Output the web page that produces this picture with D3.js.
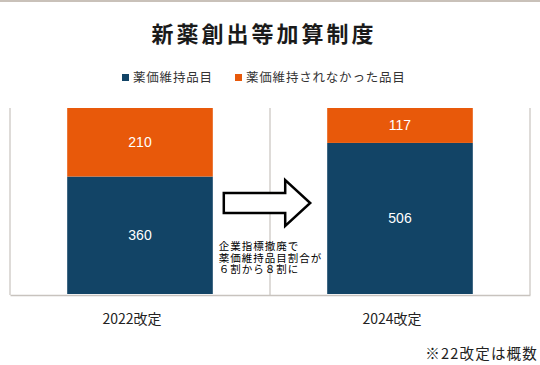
<!DOCTYPE html>
<html>
<head>
<meta charset="utf-8">
<script src="https://cdn.jsdelivr.net/npm/d3@7"></script>
<style>
  body { margin: 0; background: #fff; }
  svg { display: block; font-family: "Noto Sans CJK JP", "Noto Sans", sans-serif; }
</style>
</head>
<body>
<svg id="chart" width="540" height="365"></svg>
<script>
const categories = ["2022改定", "2024改定"];
const seriesNames = ["薬価維持品目", "薬価維持されなかった品目"];
const maintained = [360, 506];
const notMaintained = [210, 117];
const seriesColors = ["#124466", "#e8590a"];
const noteLines = ["企業指標撤廃で", "薬価維持品目割合が", "６割から８割に"];

const svg = d3.select("#chart");
const W = +svg.attr("width");
const margin = { top: 108, right: 10, bottom: 71, left: 10 };
const plotBottom = 365 - margin.bottom;

// top border strip
svg.append("rect").attr("x", 0).attr("y", 0).attr("width", W).attr("height", 2).attr("fill", "#c9c1b9");

// title
svg.append("text")
    .attr("x", W / 2 - 6).attr("y", 42)
    .attr("text-anchor", "middle")
    .attr("font-size", 22).attr("font-weight", "bold")
    .attr("letter-spacing", 3)
    .attr("fill", "#1a1a1a")
    .text("新薬創出等加算制度");

// legend
const legend = svg.append("g").attr("transform", "translate(122, 78)");
const legendX = [0, 113];
seriesNames.forEach((name, i) => {
    const g = legend.append("g").attr("transform", `translate(${legendX[i]},0)`);
    g.append("rect").attr("x", 0).attr("y", -4).attr("width", 7).attr("height", 7).attr("fill", seriesColors[i]);
    g.append("text").attr("x", 11).attr("y", 0).attr("dy", "0.35em")
        .attr("font-size", 12.5).attr("letter-spacing", 0.8).attr("fill", "#333").text(name);
});

const data = categories.map((c, i) => ({ cat: c, a: maintained[i], b: notMaintained[i] }));
const stack = d3.stack().keys(["a", "b"]).offset(d3.stackOffsetExpand);
const layers = stack(data);

const x = d3.scaleBand().domain(categories).range([margin.left, W - margin.right]).padding(0);
const y = d3.scaleLinear().domain([0, 1]).range([plotBottom, margin.top]);
const barW = x.bandwidth() * 0.56;

// vertical separators
const seps = [...categories.map(c => x(c)), x(categories[categories.length - 1]) + x.bandwidth()];
svg.append("g").selectAll("line").data(seps).enter().append("line")
    .attr("x1", d => d).attr("x2", d => d)
    .attr("y1", margin.top).attr("y2", plotBottom + 1)
    .attr("stroke", "#d3cfcb").attr("stroke-width", 1.5);

// bars
const layerG = svg.append("g").selectAll("g").data(layers).enter().append("g")
    .attr("fill", (d, i) => seriesColors[i]);
layerG.selectAll("rect").data(d => d).enter().append("rect")
    .attr("x", d => x(d.data.cat) + (x.bandwidth() - barW) / 2)
    .attr("y", d => y(d[1]))
    .attr("width", barW)
    .attr("height", d => y(d[0]) - y(d[1]));

// value labels
layers.forEach(layer => {
    svg.append("g").selectAll("text").data(layer).enter().append("text")
        .attr("x", d => x(d.data.cat) + x.bandwidth() / 2)
        .attr("y", d => (y(d[0]) + y(d[1])) / 2)
        .attr("dy", "0.35em")
        .attr("text-anchor", "middle")
        .attr("font-family", "Liberation Sans, Arial, sans-serif")
        .attr("font-size", 14).attr("fill", "#fff")
        .text(d => d.data[layer.key]);
});

// x axis
const xAxis = svg.append("g").attr("transform", `translate(0,${plotBottom + 1})`)
    .call(d3.axisBottom(x).tickSize(0).tickPadding(19));
xAxis.select(".domain").attr("stroke", "#c8c3be").attr("stroke-width", 1.5);
xAxis.selectAll("text")
    .attr("font-family", "\"Noto Sans CJK JP\", sans-serif")
    .attr("font-size", 14).attr("fill", "#222").attr("dx", -8);

// arrow between bars
const ax0 = x(categories[0]) + (x.bandwidth() + barW) / 2 + 11;
const ax1 = x(categories[1]) + (x.bandwidth() - barW) / 2 - 17;
const ay = 203;
const headLen = 25, shaftH = 10, headH = 23;
const arrowPts = [
    [ax0, ay - shaftH], [ax1 - headLen, ay - shaftH], [ax1 - headLen, ay - headH],
    [ax1, ay], [ax1 - headLen, ay + headH], [ax1 - headLen, ay + shaftH], [ax0, ay + shaftH]
];
svg.append("polygon")
    .attr("points", arrowPts.map(p => p.join(",")).join(" "))
    .attr("fill", "#fff").attr("stroke", "#000").attr("stroke-width", 2.5);

// annotation
const note = svg.append("text")
    .attr("x", ax0 - 5).attr("y", 250)
    .attr("font-family", "\"Noto Sans CJK JP\", sans-serif")
    .attr("font-size", 10.5).attr("letter-spacing", 1).attr("fill", "#000");
noteLines.forEach((t, i) => {
    note.append("tspan").attr("x", ax0 - 5).attr("dy", i === 0 ? 0 : 11.5).text(t);
});

// footnote
svg.append("text")
    .attr("x", W - 2).attr("y", 359)
    .attr("text-anchor", "end")
    .attr("font-size", 14.5).attr("letter-spacing", 1.2).attr("fill", "#222")
    .text("※22改定は概数");
</script>
</body>
</html>
